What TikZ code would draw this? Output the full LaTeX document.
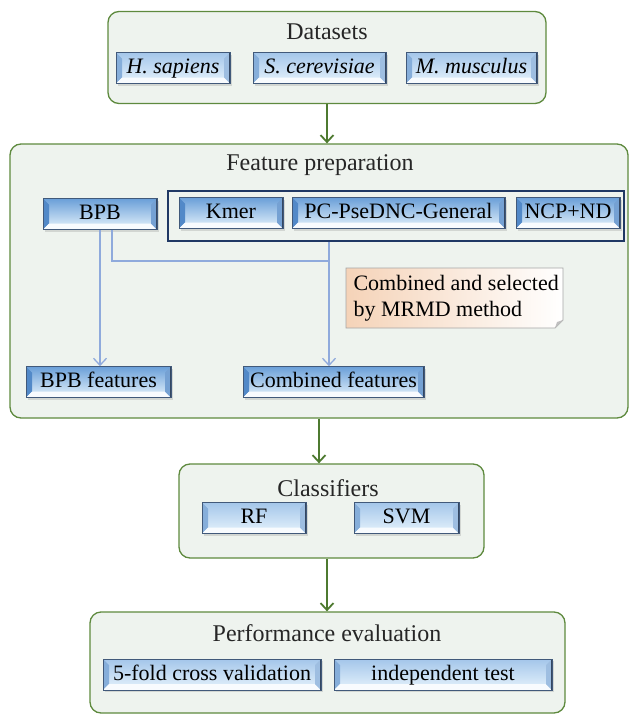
\documentclass[tikz,border=0pt]{standalone}
\usepackage{fontspec}
\setmainfont{Liberation Serif}
\usetikzlibrary{arrows.meta,shadows}

\definecolor{grpline}{HTML}{5E8A3E}
\definecolor{grpfill}{HTML}{EEF3EE}
\definecolor{flowgreen}{HTML}{4E7A30}
\definecolor{linkblue}{HTML}{8FAADC}
\definecolor{navy}{HTML}{1F3864}
\definecolor{btnedge}{HTML}{41597A}
\definecolor{lbtop}{HTML}{A4C6EA}
\definecolor{lbbot}{HTML}{E6F3FC}
\definecolor{lbleft}{HTML}{86AEDA}
\definecolor{dbtop}{HTML}{6A9FD8}
\definecolor{dbbot}{HTML}{D2E6F7}
\definecolor{dbleft}{HTML}{5289C8}
\definecolor{peach}{HTML}{F5D3B8}

\tikzset{
  grp/.style={draw=grpline, line width=1.3pt, fill=grpfill, rounded corners=11pt},
  ttl/.style={font=\fontsize{24}{28}\selectfont, text=black!85},
  flow/.style={draw=flowgreen, line width=1.8pt, -{Straight Barb[length=7pt,width=13pt]}},
  link/.style={draw=linkblue, line width=1.3pt},
  bevel/.style 2 args={top color=#1, bottom color=lbbot, draw=btnedge, line width=.6pt,
    drop shadow={shadow xshift=1.5pt, shadow yshift=-2pt, opacity=.25},
    path picture={
      \path (path picture bounding box.north west) ++(6,-6) coordinate (inw)
            (path picture bounding box.north east) ++(-6,-6) coordinate (ine)
            (path picture bounding box.south east) ++(-6,6) coordinate (ise)
            (path picture bounding box.south west) ++(6,6) coordinate (isw);
      \fill[#2] (path picture bounding box.north west) -- (inw) -- (isw)
            -- (path picture bounding box.south west) -- cycle;
      \fill[white!70!lbbot] (path picture bounding box.south west) -- (isw) -- (ise)
            -- (path picture bounding box.south east) -- cycle;
      \fill[#2!80!white] (path picture bounding box.north east) -- (ine) -- (ise)
            -- (path picture bounding box.south east) -- cycle;
      \draw[btnedge!80!black, line width=3pt] (path picture bounding box.north east)
            -- (path picture bounding box.south east);
    }},
  btn/.style={bevel={lbtop}{lbleft}, minimum height=31pt, inner sep=0pt,
    text height=15pt, text depth=4pt, font=\fontsize{22}{26}\selectfont},
  btndark/.style={bevel={dbtop}{dbleft}, minimum height=31pt, inner sep=0pt,
    text height=15pt, text depth=4pt, font=\fontsize{22}{26}\selectfont},
}

\begin{document}
\begin{tikzpicture}[x=1pt,y=1pt,yscale=-1]
\useasboundingbox (0,0) rectangle (630,715);
% group boxes
\node[grp, minimum width=438pt, minimum height=92pt] (datasets) at (327,57.5) {};
\node[grp, minimum width=618pt, minimum height=274pt] (featprep) at (319,281) {};
\node[grp, minimum width=305pt, minimum height=94pt] (classifiers) at (331.5,511) {};
\node[grp, minimum width=475pt, minimum height=101pt] (perfeval) at (327.5,662.5) {};
% titles
\node[ttl] (datasetsttl) at (327,32) {Datasets};
\node[ttl] (featprepttl) at (320,165) {Feature preparation};
\node[ttl] (classifiersttl) at (328,488) {Classifiers};
\node[ttl] (perfevalttl) at (327,633) {Performance evaluation};
% datasets
\node[btn, minimum width=114pt, font=\fontsize{22}{26}\selectfont\itshape] (hsap) at (173,68) {H. sapiens};
\node[btn, minimum width=133pt, font=\fontsize{22}{26}\selectfont\itshape] (scer) at (319.5,68) {S. cerevisiae};
\node[btn, minimum width=131pt, font=\fontsize{22}{26}\selectfont\itshape] (mmus) at (471.5,68) {M. musculus};
% feature preparation
\node[draw=navy, line width=1.5pt, minimum width=456pt, minimum height=50pt] (kgroup) at (396,216) {};
\node[btndark, minimum width=114pt] (bpb) at (100,214) {BPB};
\node[btndark, minimum width=104pt] (kmer) at (231,213) {Kmer};
\node[btndark, minimum width=213pt] (pcpse) at (398.5,213) {PC-PseDNC-General};
\node[btndark, minimum width=104pt] (ncp) at (568,213) {NCP+ND};
\node[btndark, minimum width=145pt] (bpbfeat) at (98.5,382) {BPB features};
\node[btndark, minimum width=181pt] (combfeat) at (333.5,382) {Combined features};
\coordinate (join) at (329,261);
% note
\shade[left color=peach, right color=white, draw=black!35, line width=.8pt]
  (346,268) -- (563,268) -- (563,320) -- (555,328) -- (346,328) -- cycle;
\fill[black!25] (563,320) -- (555,328) -- (557,322) -- cycle;
\node[font=\fontsize{22}{26}\selectfont, align=left, anchor=west] (note) at (350,298)
  {Combined and selected\\by MRMD method};
% classifiers
\node[btn, minimum width=104pt] (rf) at (254,518) {RF};
\node[btn, minimum width=105pt] (svm) at (406.5,518) {SVM};
% performance evaluation
\node[btn, minimum width=218pt] (fivefold) at (212,674.5) {5-fold cross validation};
\node[btn, minimum width=218pt] (indep) at (443,674.5) {independent test};
% connectors
\draw[link, -{Straight Barb[length=7pt,width=13pt]}] (bpb.south) -- (bpb.south |- bpbfeat.north);
\draw[link] ([xshift=12pt]bpb.south) |- (join);
\draw[link, -{Straight Barb[length=7pt,width=13pt]}] (kgroup.south -| join) -- (join |- combfeat.north);
\draw[flow] (datasets.south) -- (datasets.south |- featprep.north);
\draw[flow] (featprep.south) -- (featprep.south |- classifiers.north);
\draw[flow] (perfevalttl |- classifiers.south) -- (perfevalttl |- perfeval.north);
\end{tikzpicture}
\end{document}
